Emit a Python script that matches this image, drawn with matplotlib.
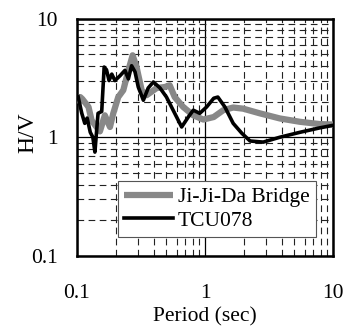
import numpy as np
import matplotlib
matplotlib.use('Agg')
import matplotlib.pyplot as plt

#---------------------------------------------
# Data
#---------------------------------------------

jijida_period = [0.102, 0.106, 0.11, 0.123, 0.13, 0.142, 0.151, 0.165, 0.181, 0.192,
                 0.21, 0.23, 0.252, 0.272, 0.292, 0.32, 0.35, 0.42, 0.486, 0.53,
                 0.58, 0.675, 0.81, 0.97, 1.17, 1.39, 1.66, 1.99, 2.68, 3.84,
                 5.5, 7.9, 10.0]
jijida_hv = [1.92, 2.18, 2.1, 1.8, 1.39, 1.22, 1.12, 1.53, 1.22, 1.59,
             2.18, 2.49, 3.66, 4.9, 3.9, 2.49, 2.26, 2.6, 2.65, 2.74,
             2.18, 1.8, 1.53, 1.41, 1.48, 1.69, 1.78, 1.74, 1.59, 1.44,
             1.35, 1.29, 1.28]

tcu_period = [0.102, 0.109, 0.115, 0.12, 0.127, 0.133, 0.138, 0.146, 0.156, 0.163,
              0.17, 0.178, 0.187, 0.198, 0.217, 0.237, 0.252, 0.267, 0.284, 0.301,
              0.33, 0.36, 0.395, 0.445, 0.5, 0.58, 0.657, 0.74, 0.81, 0.91,
              1.03, 1.17, 1.26, 1.43, 1.66, 1.94, 2.25, 2.85, 3.84, 5.5,
              7.9, 10.0]
tcu_hv = [2.2, 1.59, 1.31, 1.45, 1.1, 1.0, 0.75, 1.59, 1.65, 3.9,
          3.7, 3.0, 3.4, 3.0, 3.3, 3.66, 3.1, 4.0, 3.55, 2.65,
          2.05, 2.6, 2.92, 2.6, 2.18, 1.59, 1.22, 1.48, 1.69, 1.59,
          1.8, 2.13, 2.18, 1.8, 1.31, 1.08, 0.93, 0.91, 1.0, 1.1,
          1.2, 1.26]

x_ticks = [0.1, 1, 10]
x_tick_labels = ['0.1', '1', '10']
y_ticks = [0.1, 1, 10]
y_tick_labels = ['0.1', '1', '10']

#---------------------------------------------
# Figure
#---------------------------------------------

plt.rcParams['font.family'] = ['Liberation Serif', 'DejaVu Serif']
plt.rcParams['font.size'] = 15.5

fig = plt.figure(figsize=(3.45, 3.31), dpi=100)
ax = fig.add_axes([77 / 345, 75 / 331, 256 / 345, 237.5 / 331])

ax.set_xscale('log')
ax.set_yscale('log')
ax.set_xlim(0.1, 10)
ax.set_ylim(0.1, 10)

ax.plot(jijida_period, jijida_hv, color='#888888', linewidth=4.5, solid_capstyle='butt',
        label='Ji-Ji-Da Bridge', zorder=3)
ax.plot(tcu_period, tcu_hv, color='black', linewidth=2.6, label='TCU078', zorder=4)

# grid: dashed minor, solid major
ax.grid(which='minor', color='#222222', linestyle=(0, (6, 4)), linewidth=0.8)
ax.grid(which='major', color='black', linestyle='-', linewidth=0.9)
ax.set_axisbelow(True)

ax.set_xticks(x_ticks)
ax.set_xticklabels(x_tick_labels)
ax.set_yticks(y_ticks)
ax.set_yticklabels(y_tick_labels)
ax.tick_params(which='both', length=0)
ax.tick_params(axis='x', pad=20)
ax.tick_params(axis='y', pad=14)

for spine in ax.spines.values():
    spine.set_linewidth(1.8)

ax.set_xlabel('Period (sec)', labelpad=3)
ax.set_ylabel('H/V', fontsize=17)
ax.yaxis.set_label_coords(-0.15, 0.52)

leg = ax.legend(loc='lower right', bbox_to_anchor=(239 / 256, 19 / 237.5),
                fancybox=False, framealpha=1, edgecolor='#555555',
                handlelength=2.3, handletextpad=0.2, borderpad=0.3,
                labelspacing=0.15, borderaxespad=0)
leg.get_frame().set_linewidth(0.8)

fig.savefig('out.png', dpi=100)
